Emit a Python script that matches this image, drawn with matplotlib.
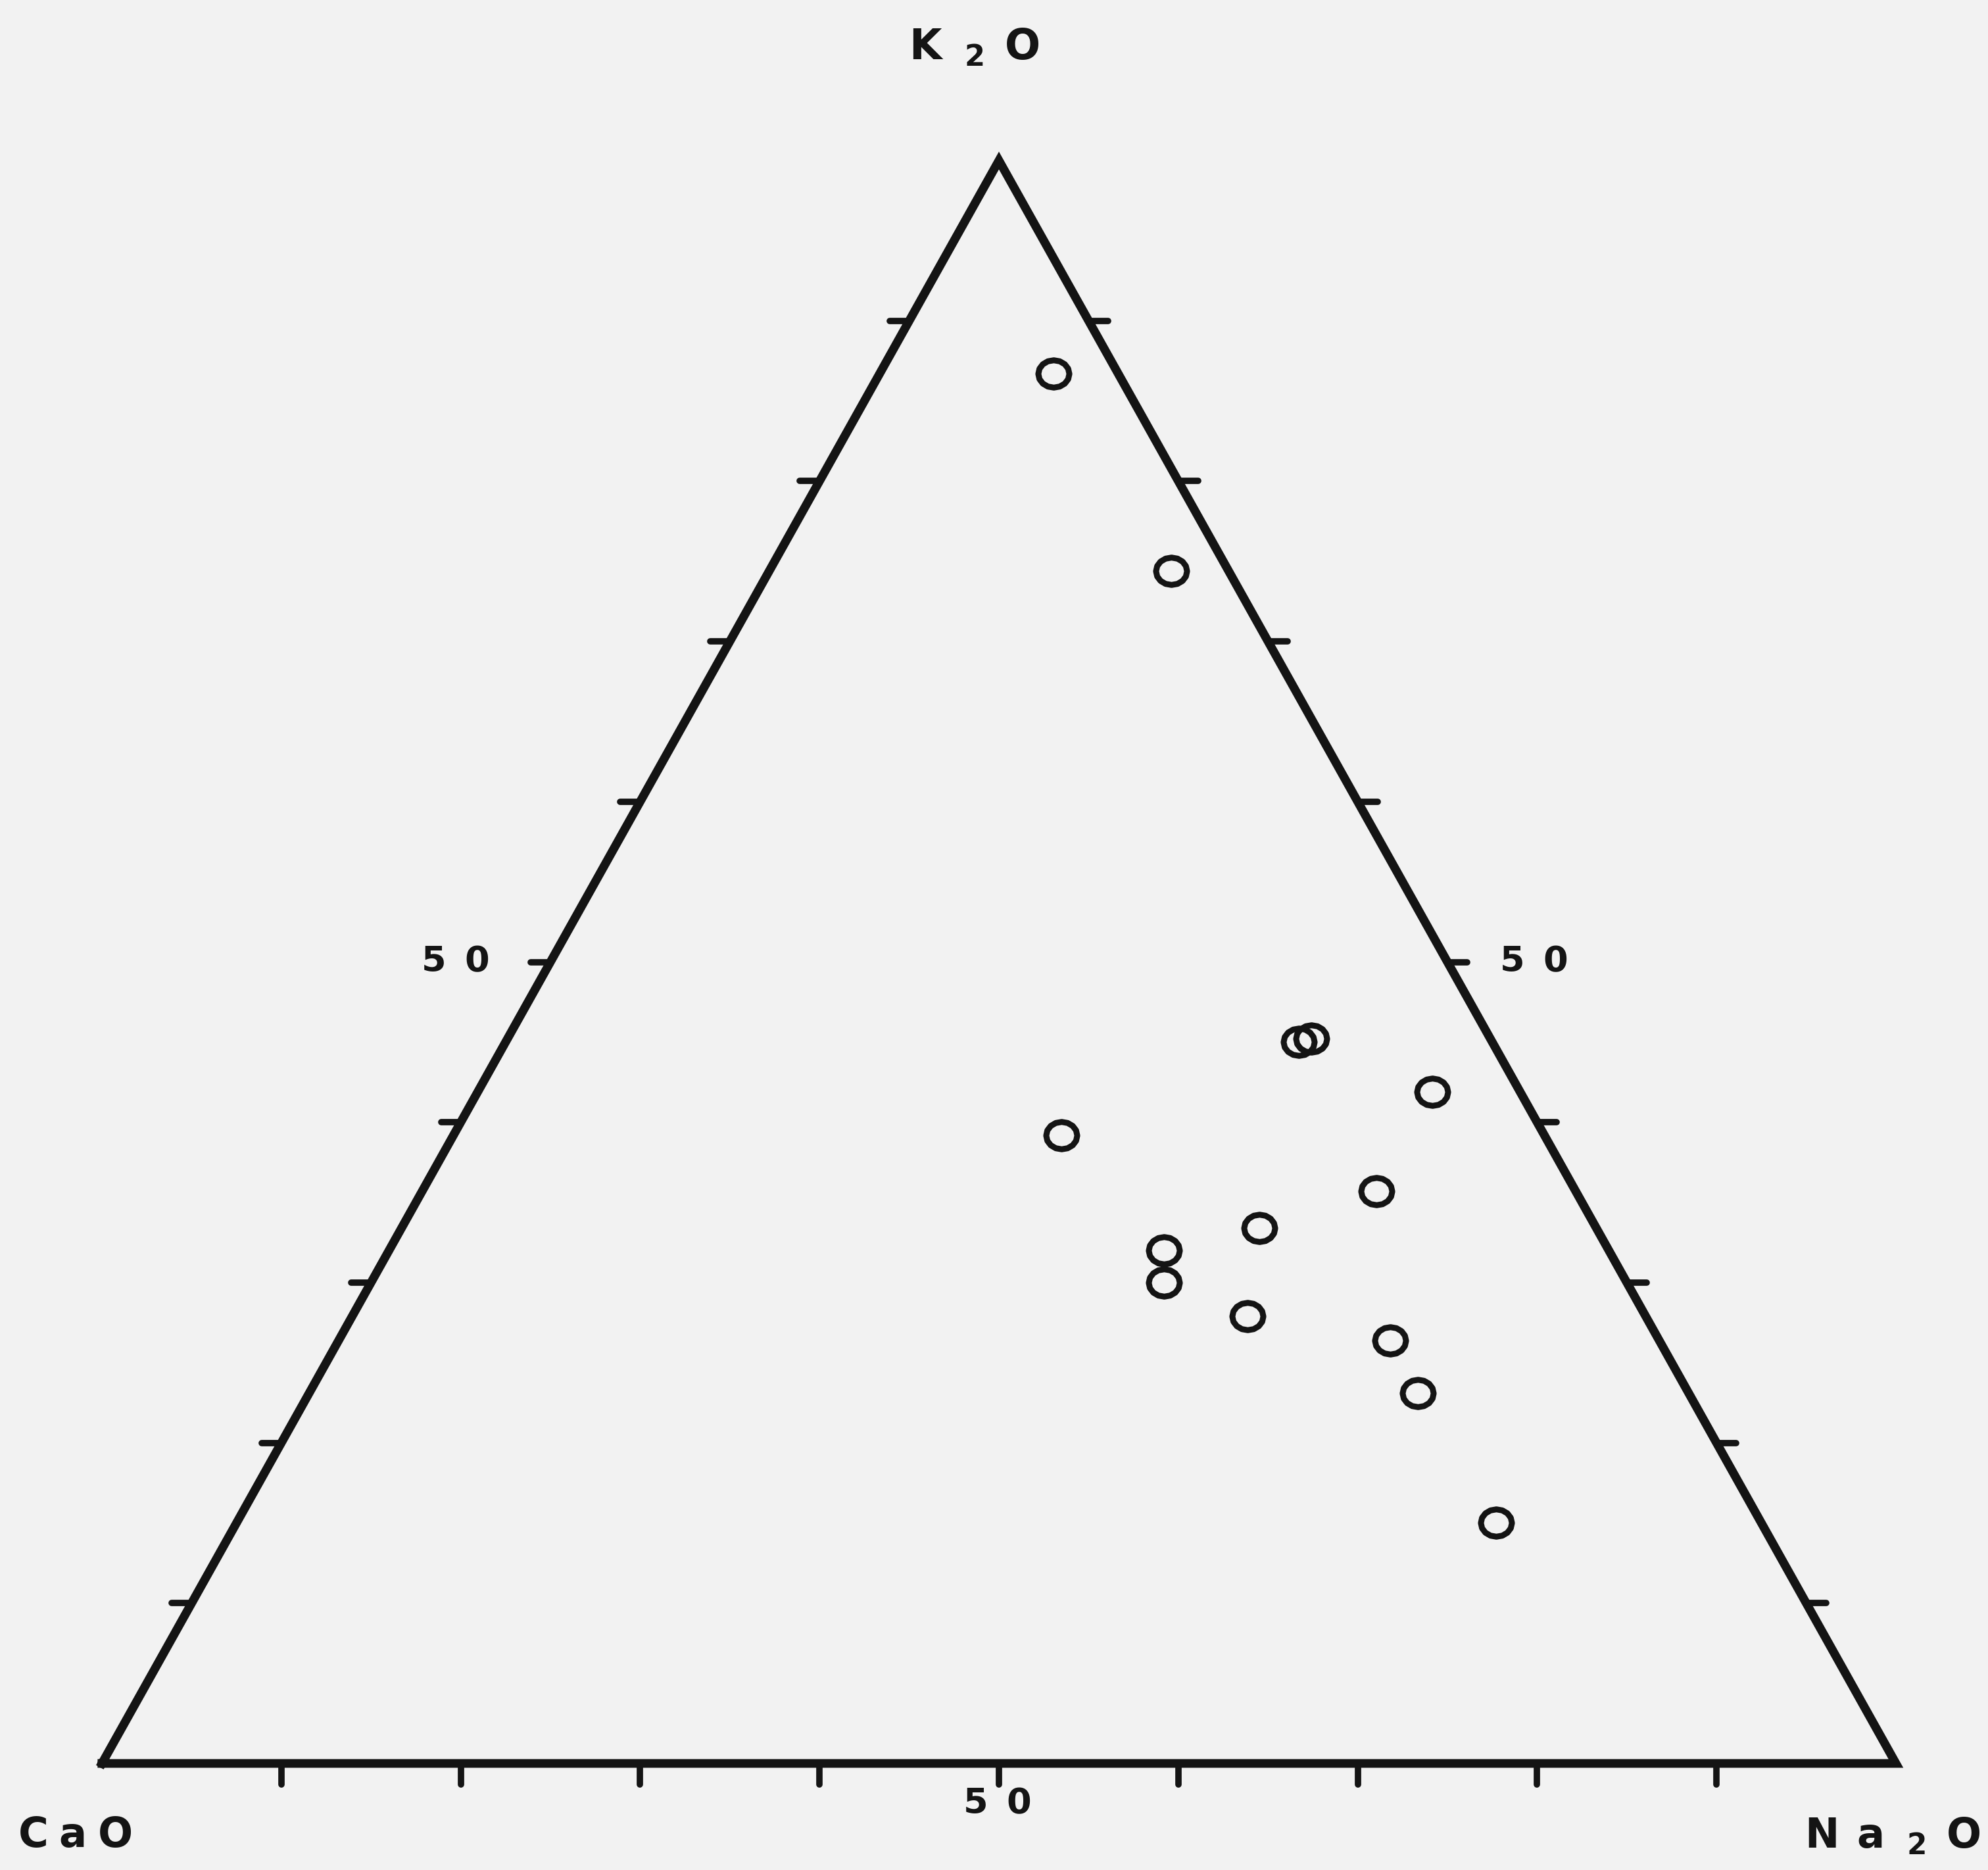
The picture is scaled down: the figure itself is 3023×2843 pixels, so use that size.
import matplotlib.pyplot as plt
from matplotlib.path import Path
import numpy as np

# Composition of each sample, in percent of CaO + Na2O + K2O
cao = [3.6, 3.2, 10.8, 10.0, 4.9, 26.9, 11.1, 18.8, 24.8, 25.8, 22.2, 15.0, 15.1, 14.8]
na2o = [9.7, 22.4, 44.2, 44.8, 53.2, 33.9, 53.2, 47.8, 43.2, 44.2, 49.9, 58.6, 61.8, 70.2]
k2o = [86.7, 74.4, 45.0, 45.2, 41.9, 39.2, 35.7, 33.4, 32.0, 30.0, 27.9, 26.4, 23.1, 15.0]

tick_values = [10, 20, 30, 40, 50, 60, 70, 80, 90]
labelled_tick = 50

INK = "#141414"
PAPER = "#f2f2f2"


def ternary_xy(ca, na, k):
    ca, na, k = np.asarray(ca, float), np.asarray(na, float), np.asarray(k, float)
    total = ca + na + k
    # CaO at the left corner, Na2O at the right, K2O at the apex
    return (na + k / 2) / total, k / total


# plotter-style symbol: a slightly flattened ring
ang = np.linspace(0, 2 * np.pi, 17)
ring = Path(np.column_stack([np.cos(ang), 0.88 * np.sin(ang)]), closed=True)

fig = plt.figure(figsize=(30.23, 28.43), dpi=100, facecolor=PAPER)
ax = fig.add_axes([0.05127, 0.05698, 0.90242, 0.85719])
ax.set_xlim(0, 1)
ax.set_ylim(0, 1)
ax.axis("off")

# triangle frame
ax.plot([0, 1, 0.5, 0], [0, 0, 1, 0], color=INK, lw=9.5,
        solid_joinstyle="miter", clip_on=False)

# tick marks every 10 %
tick_x = 0.011
tick_y = 0.013
for t in tick_values:
    f = t / 100
    ax.plot([f, f], [0, -tick_y], color=INK, lw=7, clip_on=False,
            solid_capstyle="round")
    ax.plot([f / 2, f / 2 - tick_x], [f, f], color=INK, lw=7, clip_on=False,
            solid_capstyle="round")
    ax.plot([1 - f / 2, 1 - f / 2 + tick_x], [f, f], color=INK, lw=7,
            clip_on=False, solid_capstyle="round")

digits = str(labelled_tick)
lab = r"$\mathbf{%s\;\;%s}$" % (digits[0], digits[1])
f = labelled_tick / 100
ax.text(f / 2 - 0.053, f, lab, fontsize=39, ha="center", va="center",
        color=INK)
ax.text(1 - f / 2 + 0.048, f, lab, fontsize=39, ha="center", va="center",
        color=INK)
ax.text(f - 0.001, -0.025, lab, fontsize=39, ha="center", va="center",
        color=INK)

# corner labels
ax.text(0.486, 1.063, r"$\mathbf{K\;\;{}_{2}\;\,O}$", fontsize=46,
        ha="center", va="baseline", color=INK)
ax.text(-0.015, -0.052, r"$\mathbf{C\;a\;O}$", fontsize=45,
        ha="center", va="baseline", color=INK)
ax.text(0.998, -0.053, r"$\mathbf{N\;\,a\;\;{}_{2}\;\,O}$", fontsize=45,
        ha="center", va="baseline", color=INK)

# samples
x, y = ternary_xy(cao, na2o, k2o)
ax.plot(x, y, linestyle="none", marker=ring, markersize=34,
        markerfacecolor="none", markeredgecolor=INK, markeredgewidth=6.5,
        clip_on=False)

fig.savefig("out.png", dpi=100, facecolor=PAPER)
